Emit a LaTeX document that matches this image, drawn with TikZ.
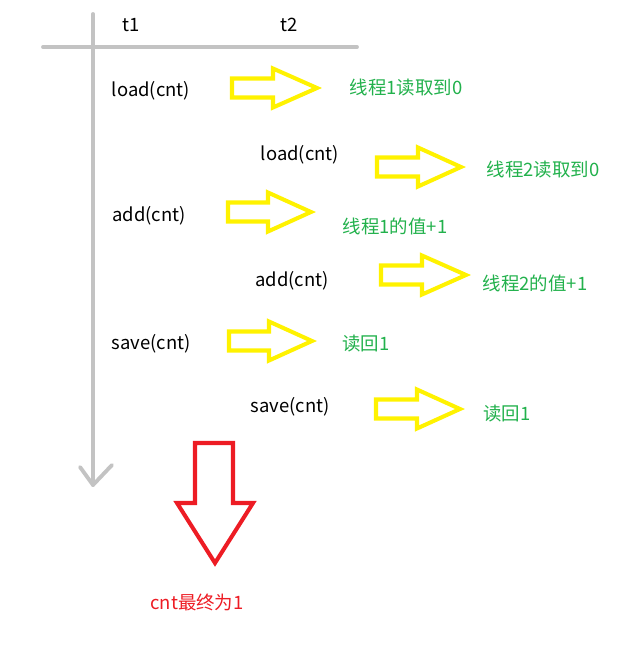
\documentclass[tikz,border=0pt]{standalone}
\usepackage{fontspec}
\setmainfont{Noto Sans CJK SC}
\usepackage{xcolor}
\usetikzlibrary{arrows.meta}

\definecolor{axisgray}{RGB}{195,195,195}
\definecolor{markyellow}{RGB}{255,242,0}
\definecolor{notegreen}{RGB}{34,177,76}
\definecolor{resultred}{RGB}{237,28,36}

\begin{document}
\begin{tikzpicture}[
    x=0.02cm,
    y=-0.02cm,
    font=\fontsize{10.5}{12}\selectfont,
    axis/.style={
        axisgray,
        line width=2.2pt,
        line cap=round
    },
    step op/.style={
        inner sep=1pt,
        text=black
    },
    note/.style={
        inner sep=1pt,
        text=notegreen
    },
    yarrow/.style={
        draw=markyellow,
        line width=2.3pt,
        line join=miter
    },
    rarrow/.style={
        draw=resultred,
        line width=2.3pt,
        line join=miter
    }
]

\useasboundingbox (0,0) rectangle (627,660);

% Time axis and thread header
\draw[
    axis
] (43,47) -- (357,47);

\draw[
    axis
] (93,14) -- (93,485);

\draw[
    axis,
    line join=round
] (80,467) -- (93,485) -- (112,465);

\node (t1) at (131,25) {t1};
\node (t2) at (289,25) {t2};


% Steps of thread t1 and t2
\node[step op] (load1) at (151,91) {load(cnt)};
\node[step op] (load2) at (300,155) {load(cnt)};
\node[step op] (add1) at (149,216) {add(cnt)};
\node[step op] (add2) at (292,281) {add(cnt)};
\node[step op] (save1) at (151,344) {save(cnt)};
\node[step op] (save2) at (290,407) {save(cnt)};


% Yellow block arrows
\draw[yarrow] (232,88) ++(0,-9.5) -- ++(41,0) -- ++(0,-10) -- ++(44,19.5)
    -- ++(-44,19.5) -- ++(0,-10) -- ++(-41,0) -- cycle;

\draw[yarrow] (377,167) ++(0,-9.5) -- ++(41,0) -- ++(0,-10) -- ++(43,19.5)
    -- ++(-43,19.5) -- ++(0,-10) -- ++(-41,0) -- cycle;

\draw[yarrow] (228,212) ++(0,-9.5) -- ++(40,0) -- ++(0,-10) -- ++(43,19.5)
    -- ++(-43,19.5) -- ++(0,-10) -- ++(-40,0) -- cycle;

\draw[yarrow] (381,275) ++(0,-9.5) -- ++(41,0) -- ++(0,-10) -- ++(44,19.5)
    -- ++(-44,19.5) -- ++(0,-10) -- ++(-41,0) -- cycle;

\draw[yarrow] (229,341) ++(0,-9.5) -- ++(40,0) -- ++(0,-10) -- ++(43,19.5)
    -- ++(-43,19.5) -- ++(0,-10) -- ++(-40,0) -- cycle;

\draw[yarrow] (376,409) ++(0,-9.5) -- ++(41,0) -- ++(0,-10) -- ++(43,19.5)
    -- ++(-43,19.5) -- ++(0,-10) -- ++(-41,0) -- cycle;


% Green notes
\node[note] (note1) at (406,88) {线程1读取到0};
\node[note] (note2) at (543,170) {线程2读取到0};
\node[note] (note3) at (395,226) {线程1的值+1};
\node[note] (note4) at (535,283) {线程2的值+1};
\node[note] (note5) at (366,344) {读回1};
\node[note] (note6) at (507,414) {读回1};


% Result
\draw[rarrow] (195,443) -- (233,443) -- (233,503) -- (253,503) -- (215,563)
    -- (177,503) -- (195,503) -- cycle;

\node[
    text=resultred
] (result) at (197,602) {cnt最终为1};

\end{tikzpicture}
\end{document}
